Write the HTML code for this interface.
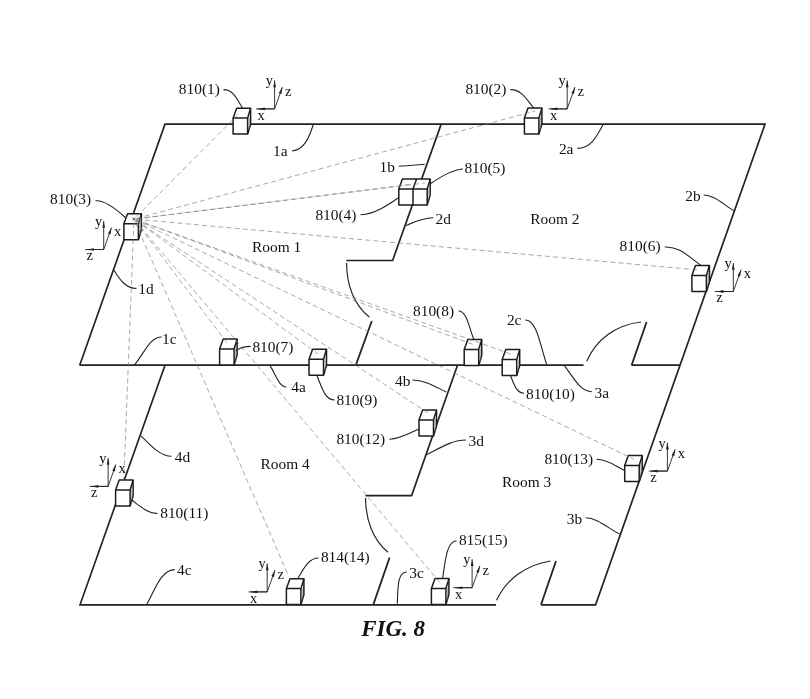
<!DOCTYPE html>
<html><head><meta charset="utf-8"><title>FIG. 8</title>
<style>
html,body{margin:0;padding:0;background:#fff;}
svg{display:block;will-change:transform;transform:translateZ(0)}
text{font-family:"Liberation Serif","DejaVu Serif",serif;fill:#111;}
</style></head><body>
<svg width="810" height="699" viewBox="0 0 810 699">
<rect width="810" height="699" fill="#fff"/>
<path d="M79.7 365.2 L165.0 124.1 L765.0 124.1 L595.6 604.8 L541.0 604.8" stroke="#222" stroke-width="1.68" fill="none" stroke-linejoin="miter"/>
<path d="M79.7 365.2 L583.5 365.2" stroke="#222" stroke-width="1.68" fill="none" stroke-linejoin="miter"/>
<path d="M631.6 365.2 L680.0 365.2" stroke="#222" stroke-width="1.68" fill="none" stroke-linejoin="miter"/>
<path d="M165.0 365.2 L80.0 604.8 L496.0 604.8" stroke="#222" stroke-width="1.68" fill="none" stroke-linejoin="miter"/>
<path d="M441.2 124.1 L392.6 260.5 L346.4 260.5" stroke="#222" stroke-width="1.68" fill="none" stroke-linejoin="miter"/>
<path d="M457.5 365.2 L411.6 495.6 L365.4 495.6" stroke="#222" stroke-width="1.68" fill="none" stroke-linejoin="miter"/>
<path d="M371.8 321.0 L355.8 365.2" stroke="#222" stroke-width="1.8" fill="none" stroke-linejoin="miter"/>
<path d="M646.6 322.0 L631.6 365.2" stroke="#222" stroke-width="1.8" fill="none" stroke-linejoin="miter"/>
<path d="M389.6 557.5 L373.3 604.8" stroke="#222" stroke-width="1.8" fill="none" stroke-linejoin="miter"/>
<path d="M556.0 561.0 L541.0 604.8" stroke="#222" stroke-width="1.8" fill="none" stroke-linejoin="miter"/>
<path d="M346.6 263 C346.6 285 354 305 369.3 317" stroke="#222" stroke-width="1.15" fill="none"/>
<path d="M365.6 498 C365.6 520 373 540 388 552.3" stroke="#222" stroke-width="1.15" fill="none"/>
<path d="M586.7 361.3 C596 340 615 325 641 322" stroke="#222" stroke-width="1.15" fill="none"/>
<path d="M496.5 600.3 C506 580 525 565 550.5 561" stroke="#222" stroke-width="1.15" fill="none"/>
<path d="M233.1 118.1 L236.7 108.19999999999999 L250.6 108.19999999999999 L250.6 124.19999999999999 L247.6 134.1 L233.1 134.1 Z" stroke="#1c1c1c" stroke-width="1.5" fill="#fff" stroke-linejoin="round"/>
<path d="M233.1 118.1 L247.6 118.1 L247.6 134.1 M247.6 118.1 L250.6 108.19999999999999" stroke="#1c1c1c" stroke-width="1.5" fill="none"/>
<path d="M249.2 131.1 L249.2 117.1" stroke="#666" stroke-width="0.5" fill="none"/>
<path d="M524.4 118.0 L528.0 108.1 L541.9 108.1 L541.9 124.1 L538.9 134.0 L524.4 134.0 Z" stroke="#1c1c1c" stroke-width="1.5" fill="#fff" stroke-linejoin="round"/>
<path d="M524.4 118.0 L538.9 118.0 L538.9 134.0 M538.9 118.0 L541.9 108.1" stroke="#1c1c1c" stroke-width="1.5" fill="none"/>
<path d="M540.5 131.0 L540.5 117.0" stroke="#666" stroke-width="0.5" fill="none"/>
<path d="M123.9 223.7 L127.5 213.79999999999998 L141.4 213.79999999999998 L141.4 229.79999999999998 L138.4 239.7 L123.9 239.7 Z" stroke="#1c1c1c" stroke-width="1.5" fill="#fff" stroke-linejoin="round"/>
<path d="M123.9 223.7 L138.4 223.7 L138.4 239.7 M138.4 223.7 L141.4 213.79999999999998" stroke="#1c1c1c" stroke-width="1.5" fill="none"/>
<path d="M140.0 236.7 L140.0 222.7" stroke="#666" stroke-width="0.5" fill="none"/>
<path d="M691.9 275.5 L695.5 265.6 L709.4 265.6 L709.4 281.6 L706.4 291.5 L691.9 291.5 Z" stroke="#1c1c1c" stroke-width="1.5" fill="#fff" stroke-linejoin="round"/>
<path d="M691.9 275.5 L706.4 275.5 L706.4 291.5 M706.4 275.5 L709.4 265.6" stroke="#1c1c1c" stroke-width="1.5" fill="none"/>
<path d="M708.0 288.5 L708.0 274.5" stroke="#666" stroke-width="0.5" fill="none"/>
<path d="M219.6 349.0 L223.2 339.1 L237.1 339.1 L237.1 355.1 L234.1 365.0 L219.6 365.0 Z" stroke="#1c1c1c" stroke-width="1.5" fill="#fff" stroke-linejoin="round"/>
<path d="M219.6 349.0 L234.1 349.0 L234.1 365.0 M234.1 349.0 L237.1 339.1" stroke="#1c1c1c" stroke-width="1.5" fill="none"/>
<path d="M235.7 362.0 L235.7 348.0" stroke="#666" stroke-width="0.5" fill="none"/>
<path d="M464.2 349.5 L467.8 339.6 L481.7 339.6 L481.7 355.6 L478.7 365.5 L464.2 365.5 Z" stroke="#1c1c1c" stroke-width="1.5" fill="#fff" stroke-linejoin="round"/>
<path d="M464.2 349.5 L478.7 349.5 L478.7 365.5 M478.7 349.5 L481.7 339.6" stroke="#1c1c1c" stroke-width="1.5" fill="none"/>
<path d="M480.3 362.5 L480.3 348.5" stroke="#666" stroke-width="0.5" fill="none"/>
<path d="M309.0 359.2 L312.6 349.3 L326.5 349.3 L326.5 365.3 L323.5 375.2 L309.0 375.2 Z" stroke="#1c1c1c" stroke-width="1.5" fill="#fff" stroke-linejoin="round"/>
<path d="M309.0 359.2 L323.5 359.2 L323.5 375.2 M323.5 359.2 L326.5 349.3" stroke="#1c1c1c" stroke-width="1.5" fill="none"/>
<path d="M325.1 372.2 L325.1 358.2" stroke="#666" stroke-width="0.5" fill="none"/>
<path d="M502.2 359.5 L505.8 349.6 L519.7 349.6 L519.7 365.6 L516.7 375.5 L502.2 375.5 Z" stroke="#1c1c1c" stroke-width="1.5" fill="#fff" stroke-linejoin="round"/>
<path d="M502.2 359.5 L516.7 359.5 L516.7 375.5 M516.7 359.5 L519.7 349.6" stroke="#1c1c1c" stroke-width="1.5" fill="none"/>
<path d="M518.3000000000001 372.5 L518.3000000000001 358.5" stroke="#666" stroke-width="0.5" fill="none"/>
<path d="M115.6 490.0 L119.19999999999999 480.1 L133.1 480.1 L133.1 496.1 L130.1 506.0 L115.6 506.0 Z" stroke="#1c1c1c" stroke-width="1.5" fill="#fff" stroke-linejoin="round"/>
<path d="M115.6 490.0 L130.1 490.0 L130.1 506.0 M130.1 490.0 L133.1 480.1" stroke="#1c1c1c" stroke-width="1.5" fill="none"/>
<path d="M131.7 503.0 L131.7 489.0" stroke="#666" stroke-width="0.5" fill="none"/>
<path d="M419.0 420.0 L422.6 410.1 L436.5 410.1 L436.5 426.1 L433.5 436.0 L419.0 436.0 Z" stroke="#1c1c1c" stroke-width="1.5" fill="#fff" stroke-linejoin="round"/>
<path d="M419.0 420.0 L433.5 420.0 L433.5 436.0 M433.5 420.0 L436.5 410.1" stroke="#1c1c1c" stroke-width="1.5" fill="none"/>
<path d="M435.1 433.0 L435.1 419.0" stroke="#666" stroke-width="0.5" fill="none"/>
<path d="M624.7 465.5 L628.3000000000001 455.6 L642.2 455.6 L642.2 471.6 L639.2 481.5 L624.7 481.5 Z" stroke="#1c1c1c" stroke-width="1.5" fill="#fff" stroke-linejoin="round"/>
<path d="M624.7 465.5 L639.2 465.5 L639.2 481.5 M639.2 465.5 L642.2 455.6" stroke="#1c1c1c" stroke-width="1.5" fill="none"/>
<path d="M640.8000000000001 478.5 L640.8000000000001 464.5" stroke="#666" stroke-width="0.5" fill="none"/>
<path d="M286.4 588.6 L290.0 578.7 L303.9 578.7 L303.9 594.7 L300.9 604.6 L286.4 604.6 Z" stroke="#1c1c1c" stroke-width="1.5" fill="#fff" stroke-linejoin="round"/>
<path d="M286.4 588.6 L300.9 588.6 L300.9 604.6 M300.9 588.6 L303.9 578.7" stroke="#1c1c1c" stroke-width="1.5" fill="none"/>
<path d="M302.5 601.6 L302.5 587.6" stroke="#666" stroke-width="0.5" fill="none"/>
<path d="M431.4 588.5 L435.0 578.6 L448.9 578.6 L448.9 594.6 L445.9 604.5 L431.4 604.5 Z" stroke="#1c1c1c" stroke-width="1.5" fill="#fff" stroke-linejoin="round"/>
<path d="M431.4 588.5 L445.9 588.5 L445.9 604.5 M445.9 588.5 L448.9 578.6" stroke="#1c1c1c" stroke-width="1.5" fill="none"/>
<path d="M447.5 601.5 L447.5 587.5" stroke="#666" stroke-width="0.5" fill="none"/>
<path d="M398.8 189.0 L402.40000000000003 179.1 L430.2 179.1 L430.2 195.1 L427.2 205.0 L398.8 205.0 Z" stroke="#1c1c1c" stroke-width="1.5" fill="#fff" stroke-linejoin="round"/>
<path d="M398.8 189.0 L427.2 189.0 L427.2 205.0 M427.2 189.0 L430.2 179.1" stroke="#1c1c1c" stroke-width="1.5" fill="none"/>
<path d="M413.0 205.0 L413.0 189.0 L416.6 179.1" stroke="#1c1c1c" stroke-width="1.5" fill="none"/>
<path d="M428.8 202.0 L428.8 188.0" stroke="#666" stroke-width="0.5" fill="none"/>
<line x1="134.0" y1="219.1" x2="238.5" y2="114" stroke="#7a7a7a" stroke-width="0.65" stroke-dasharray="5 3.2" stroke-dashoffset="4.6"/>
<line x1="134.0" y1="219.1" x2="535" y2="111" stroke="#7a7a7a" stroke-width="0.65" stroke-dasharray="5 3.2" stroke-dashoffset="5.5"/>
<line x1="134.0" y1="219.1" x2="410.7" y2="184.4" stroke="#7a7a7a" stroke-width="0.65" stroke-dasharray="5 3.2" stroke-dashoffset="6.4"/>
<line x1="134.0" y1="219.1" x2="424.8" y2="183" stroke="#7a7a7a" stroke-width="0.65" stroke-dasharray="5 3.2" stroke-dashoffset="4.6"/>
<line x1="134.0" y1="219.1" x2="698.8" y2="270" stroke="#7a7a7a" stroke-width="0.65" stroke-dasharray="5 3.2" stroke-dashoffset="5.5"/>
<line x1="134.0" y1="219.1" x2="227" y2="343" stroke="#7a7a7a" stroke-width="0.65" stroke-dasharray="5 3.2" stroke-dashoffset="6.4"/>
<line x1="134.0" y1="219.1" x2="473" y2="344.4" stroke="#7a7a7a" stroke-width="0.65" stroke-dasharray="5 3.2" stroke-dashoffset="4.6"/>
<line x1="134.0" y1="219.1" x2="318" y2="354" stroke="#7a7a7a" stroke-width="0.65" stroke-dasharray="5 3.2" stroke-dashoffset="5.5"/>
<line x1="134.0" y1="219.1" x2="512" y2="354.5" stroke="#7a7a7a" stroke-width="0.65" stroke-dasharray="5 3.2" stroke-dashoffset="6.4"/>
<line x1="134.0" y1="219.1" x2="123.8" y2="480" stroke="#7a7a7a" stroke-width="0.65" stroke-dasharray="5 3.2" stroke-dashoffset="4.6"/>
<line x1="134.0" y1="219.1" x2="428" y2="413" stroke="#7a7a7a" stroke-width="0.65" stroke-dasharray="5 3.2" stroke-dashoffset="5.5"/>
<line x1="134.0" y1="219.1" x2="634" y2="459.3" stroke="#7a7a7a" stroke-width="0.65" stroke-dasharray="5 3.2" stroke-dashoffset="6.4"/>
<line x1="134.0" y1="219.1" x2="287.7" y2="574" stroke="#7a7a7a" stroke-width="0.65" stroke-dasharray="5 3.2" stroke-dashoffset="4.6"/>
<line x1="134.0" y1="219.1" x2="440" y2="582.7" stroke="#7a7a7a" stroke-width="0.65" stroke-dasharray="5 3.2" stroke-dashoffset="5.5"/>
<path d="M132.4 217.7 L135.6 220.5 M132.4 220.5 L135.6 217.7 M134.0 217.29999999999998 L134.0 220.9" stroke="#444" stroke-width="0.6" fill="none"/>
<line x1="274.6" y1="108.9" x2="274.6" y2="80.4" stroke="#222" stroke-width="0.9"/>
<path d="M274.6 80.4 L276.0 87.2 L273.2 87.2 Z" fill="#222"/>
<line x1="274.6" y1="108.9" x2="282.40000000000003" y2="87.10000000000001" stroke="#222" stroke-width="0.9"/>
<path d="M282.4 87.1 L281.4 94.0 L278.8 93.0 Z" fill="#222"/>
<line x1="274.6" y1="108.9" x2="258.0" y2="108.9" stroke="#222" stroke-width="0.9"/>
<path d="M258.0 108.9 L264.8 107.6 L264.8 110.2 Z" fill="#222"/>
<line x1="274.6" y1="108.9" x2="256.0" y2="108.9" stroke="#222" stroke-width="0.9"/>
<text x="265.8" y="85.4" font-size="14.5" >y</text>
<text x="285.0" y="95.7" font-size="14.5" >z</text>
<text x="257.5" y="119.80000000000001" font-size="14.5" >x</text>
<line x1="567.2" y1="108.9" x2="567.2" y2="80.4" stroke="#222" stroke-width="0.9"/>
<path d="M567.2 80.4 L568.6 87.2 L565.9 87.2 Z" fill="#222"/>
<line x1="567.2" y1="108.9" x2="575.0" y2="87.10000000000001" stroke="#222" stroke-width="0.9"/>
<path d="M575.0 87.1 L574.0 94.0 L571.4 93.0 Z" fill="#222"/>
<line x1="567.2" y1="108.9" x2="550.6" y2="108.9" stroke="#222" stroke-width="0.9"/>
<path d="M550.6 108.9 L557.4 107.6 L557.4 110.2 Z" fill="#222"/>
<line x1="567.2" y1="108.9" x2="548.6" y2="108.9" stroke="#222" stroke-width="0.9"/>
<text x="558.4000000000001" y="85.4" font-size="14.5" >y</text>
<text x="577.6" y="95.7" font-size="14.5" >z</text>
<text x="550.1" y="119.80000000000001" font-size="14.5" >x</text>
<line x1="103.7" y1="249.5" x2="103.7" y2="221.0" stroke="#222" stroke-width="0.9"/>
<path d="M103.7 221.0 L105.0 227.8 L102.4 227.8 Z" fill="#222"/>
<line x1="103.7" y1="249.5" x2="111.5" y2="227.7" stroke="#222" stroke-width="0.9"/>
<path d="M111.5 227.7 L110.5 234.6 L107.9 233.6 Z" fill="#222"/>
<line x1="103.7" y1="249.5" x2="87.1" y2="249.5" stroke="#222" stroke-width="0.9"/>
<path d="M87.1 249.5 L93.9 248.2 L93.9 250.8 Z" fill="#222"/>
<line x1="103.7" y1="249.5" x2="85.1" y2="249.5" stroke="#222" stroke-width="0.9"/>
<text x="94.9" y="226.0" font-size="14.5" >y</text>
<text x="114.10000000000001" y="236.3" font-size="14.5" >x</text>
<text x="86.6" y="260.4" font-size="14.5" >z</text>
<line x1="733.3" y1="291.5" x2="733.3" y2="263.0" stroke="#222" stroke-width="0.9"/>
<path d="M733.3 263.0 L734.6 269.8 L731.9 269.8 Z" fill="#222"/>
<line x1="733.3" y1="291.5" x2="741.0999999999999" y2="269.7" stroke="#222" stroke-width="0.9"/>
<path d="M741.1 269.7 L740.1 276.6 L737.5 275.6 Z" fill="#222"/>
<line x1="733.3" y1="291.5" x2="716.6999999999999" y2="291.5" stroke="#222" stroke-width="0.9"/>
<path d="M716.7 291.5 L723.5 290.1 L723.5 292.9 Z" fill="#222"/>
<line x1="733.3" y1="291.5" x2="714.6999999999999" y2="291.5" stroke="#222" stroke-width="0.9"/>
<text x="724.5" y="268.0" font-size="14.5" >y</text>
<text x="743.6999999999999" y="278.3" font-size="14.5" >x</text>
<text x="716.1999999999999" y="302.4" font-size="14.5" >z</text>
<line x1="667.4" y1="471.1" x2="667.4" y2="442.6" stroke="#222" stroke-width="0.9"/>
<path d="M667.4 442.6 L668.8 449.4 L666.0 449.4 Z" fill="#222"/>
<line x1="667.4" y1="471.1" x2="675.1999999999999" y2="449.3" stroke="#222" stroke-width="0.9"/>
<path d="M675.2 449.3 L674.2 456.2 L671.6 455.2 Z" fill="#222"/>
<line x1="667.4" y1="471.1" x2="650.8" y2="471.1" stroke="#222" stroke-width="0.9"/>
<path d="M650.8 471.1 L657.6 469.8 L657.6 472.5 Z" fill="#222"/>
<line x1="667.4" y1="471.1" x2="648.8" y2="471.1" stroke="#222" stroke-width="0.9"/>
<text x="658.6" y="447.6" font-size="14.5" >y</text>
<text x="677.8" y="457.90000000000003" font-size="14.5" >x</text>
<text x="650.3" y="482.0" font-size="14.5" >z</text>
<line x1="108.1" y1="486.4" x2="108.1" y2="457.9" stroke="#222" stroke-width="0.9"/>
<path d="M108.1 457.9 L109.4 464.7 L106.8 464.7 Z" fill="#222"/>
<line x1="108.1" y1="486.4" x2="115.89999999999999" y2="464.59999999999997" stroke="#222" stroke-width="0.9"/>
<path d="M115.9 464.6 L114.9 471.5 L112.3 470.5 Z" fill="#222"/>
<line x1="108.1" y1="486.4" x2="91.5" y2="486.4" stroke="#222" stroke-width="0.9"/>
<path d="M91.5 486.4 L98.3 485.0 L98.3 487.8 Z" fill="#222"/>
<line x1="108.1" y1="486.4" x2="89.5" y2="486.4" stroke="#222" stroke-width="0.9"/>
<text x="99.3" y="462.9" font-size="14.5" >y</text>
<text x="118.5" y="473.2" font-size="14.5" >x</text>
<text x="91.0" y="497.29999999999995" font-size="14.5" >z</text>
<line x1="267.2" y1="591.9" x2="267.2" y2="563.4" stroke="#222" stroke-width="0.9"/>
<path d="M267.2 563.4 L268.6 570.2 L265.8 570.2 Z" fill="#222"/>
<line x1="267.2" y1="591.9" x2="275.0" y2="570.1" stroke="#222" stroke-width="0.9"/>
<path d="M275.0 570.1 L274.0 577.0 L271.4 576.0 Z" fill="#222"/>
<line x1="267.2" y1="591.9" x2="250.6" y2="591.9" stroke="#222" stroke-width="0.9"/>
<path d="M250.6 591.9 L257.4 590.5 L257.4 593.2 Z" fill="#222"/>
<line x1="267.2" y1="591.9" x2="248.6" y2="591.9" stroke="#222" stroke-width="0.9"/>
<text x="258.4" y="568.4" font-size="14.5" >y</text>
<text x="277.59999999999997" y="578.6999999999999" font-size="14.5" >z</text>
<text x="250.1" y="602.8" font-size="14.5" >x</text>
<line x1="472.1" y1="587.7" x2="472.1" y2="559.2" stroke="#222" stroke-width="0.9"/>
<path d="M472.1 559.2 L473.5 566.0 L470.8 566.0 Z" fill="#222"/>
<line x1="472.1" y1="587.7" x2="479.90000000000003" y2="565.9000000000001" stroke="#222" stroke-width="0.9"/>
<path d="M479.9 565.9 L478.9 572.8 L476.3 571.8 Z" fill="#222"/>
<line x1="472.1" y1="587.7" x2="455.5" y2="587.7" stroke="#222" stroke-width="0.9"/>
<path d="M455.5 587.7 L462.3 586.4 L462.3 589.1 Z" fill="#222"/>
<line x1="472.1" y1="587.7" x2="453.5" y2="587.7" stroke="#222" stroke-width="0.9"/>
<text x="463.3" y="564.2" font-size="14.5" >y</text>
<text x="482.5" y="574.5" font-size="14.5" >z</text>
<text x="455.0" y="598.6" font-size="14.5" >x</text>
<text x="178.8" y="93.8" font-size="15.4" >810(1)</text>
<text x="465.4" y="93.8" font-size="15.4" >810(2)</text>
<text x="50.1" y="204.3" font-size="15.4" >810(3)</text>
<text x="315.4" y="219.8" font-size="15.4" >810(4)</text>
<text x="464.4" y="173.0" font-size="15.4" >810(5)</text>
<text x="619.6" y="251.2" font-size="15.4" >810(6)</text>
<text x="252.4" y="351.5" font-size="15.4" >810(7)</text>
<text x="413.0" y="316.0" font-size="15.4" >810(8)</text>
<text x="336.4" y="404.5" font-size="15.4" >810(9)</text>
<text x="526.1" y="398.6" font-size="15.4" >810(10)</text>
<text x="160.2" y="518.1" font-size="15.4" >810(11)</text>
<text x="336.4" y="443.5" font-size="15.4" >810(12)</text>
<text x="544.4" y="464.2" font-size="15.4" >810(13)</text>
<text x="320.9" y="562.2" font-size="15.4" >814(14)</text>
<text x="458.9" y="544.9" font-size="15.4" >815(15)</text>
<text x="252.1" y="251.9" font-size="15.4" >Room 1</text>
<text x="530.3" y="224.3" font-size="15.4" >Room 2</text>
<text x="502.1" y="486.9" font-size="15.4" >Room 3</text>
<text x="260.6" y="468.9" font-size="15.4" >Room 4</text>
<text x="273.0" y="156.3" font-size="15.4" >1a</text>
<text x="379.5" y="172.1" font-size="15.4" >1b</text>
<text x="162.1" y="343.8" font-size="15.4" >1c</text>
<text x="138.2" y="293.5" font-size="15.4" >1d</text>
<text x="558.9" y="154.3" font-size="15.4" >2a</text>
<text x="685.2" y="201.2" font-size="15.4" >2b</text>
<text x="506.9" y="325.1" font-size="15.4" >2c</text>
<text x="435.5" y="223.5" font-size="15.4" >2d</text>
<text x="594.5" y="397.9" font-size="15.4" >3a</text>
<text x="566.7" y="524.0" font-size="15.4" >3b</text>
<text x="409.3" y="577.5" font-size="15.4" >3c</text>
<text x="468.6" y="445.9" font-size="15.4" >3d</text>
<text x="291.3" y="392.4" font-size="15.4" >4a</text>
<text x="395.0" y="385.5" font-size="15.4" >4b</text>
<text x="177.1" y="574.5" font-size="15.4" >4c</text>
<text x="174.7" y="461.7" font-size="15.4" >4d</text>
<text x="361.2" y="636" font-size="23" font-weight="bold" font-style="italic">FIG. 8</text>
<path d="M223.5 89.6 C233 89.4 237 99 242.5 108" stroke="#222" stroke-width="1.1" fill="none"/>
<path d="M510.4 89.6 C521 89 527 100 533.8 108" stroke="#222" stroke-width="1.1" fill="none"/>
<path d="M95.5 200.8 C104 200 115 208 125.3 217.5" stroke="#222" stroke-width="1.1" fill="none"/>
<path d="M360.5 214.8 C375 214 388 205 398.8 197.5" stroke="#222" stroke-width="1.1" fill="none"/>
<path d="M430 184 C442 176 452 170 463 169" stroke="#222" stroke-width="1.1" fill="none"/>
<path d="M664.7 247 C680 246 690 258 701.2 265.6" stroke="#222" stroke-width="1.1" fill="none"/>
<path d="M235.8 350.6 C240 348 245 346.4 250.6 346.4" stroke="#222" stroke-width="1.1" fill="none"/>
<path d="M458.5 311 C467 311 469 328 474 339.9" stroke="#222" stroke-width="1.1" fill="none"/>
<path d="M316.8 375.3 C322 388 325 400 334.6 400" stroke="#222" stroke-width="1.1" fill="none"/>
<path d="M510.4 375.2 C514 385 517 393.2 524 393.2" stroke="#222" stroke-width="1.1" fill="none"/>
<path d="M131.6 500 C140 506 148 513.6 157.5 513.6" stroke="#222" stroke-width="1.1" fill="none"/>
<path d="M389.4 439.3 C400 439 410 433 419 429" stroke="#222" stroke-width="1.1" fill="none"/>
<path d="M596.5 459.3 C607 459 615 466 624.7 470.4" stroke="#222" stroke-width="1.1" fill="none"/>
<path d="M318.5 558 C308 558 303 570 297.5 579" stroke="#222" stroke-width="1.1" fill="none"/>
<path d="M456.5 540.7 C446 541 445 565 442.5 579" stroke="#222" stroke-width="1.1" fill="none"/>
<path d="M313.5 124 C309 138 304 150 292 151" stroke="#222" stroke-width="1.1" fill="none"/>
<path d="M398.8 166.2 C408 166 416 165 424.7 164.2" stroke="#222" stroke-width="1.1" fill="none"/>
<path d="M134.8 364.6 C145 352 150 337 161.7 337" stroke="#222" stroke-width="1.1" fill="none"/>
<path d="M113.8 270 C120 280 126 288.5 136.5 288.5" stroke="#222" stroke-width="1.1" fill="none"/>
<path d="M603 124.7 C596 138 590 148.4 577.5 148.4" stroke="#222" stroke-width="1.1" fill="none"/>
<path d="M703.7 195 C714 195 724 205 733.8 210.6" stroke="#222" stroke-width="1.1" fill="none"/>
<path d="M525.2 320 C537 320 540 345 546.7 364.6" stroke="#222" stroke-width="1.1" fill="none"/>
<path d="M406.2 225.4 C416 221 424 217.8 433.3 217.8" stroke="#222" stroke-width="1.1" fill="none"/>
<path d="M564.2 365.3 C574 378 580 391.7 591.9 391.7" stroke="#222" stroke-width="1.1" fill="none"/>
<path d="M585.7 517.8 C597 518 608 528 619.5 534" stroke="#222" stroke-width="1.1" fill="none"/>
<path d="M406.7 572 C397 572 398 590 397.3 603.7" stroke="#222" stroke-width="1.1" fill="none"/>
<path d="M426.4 454.8 C440 448 452 440 466 440" stroke="#222" stroke-width="1.1" fill="none"/>
<path d="M269.9 365.4 C276 375 279 387 286.4 387" stroke="#222" stroke-width="1.1" fill="none"/>
<path d="M412.5 380 C425 380 436 387 446.2 391.9" stroke="#222" stroke-width="1.1" fill="none"/>
<path d="M146.9 603.9 C155 590 161 569.6 174.8 569.6" stroke="#222" stroke-width="1.1" fill="none"/>
<path d="M141 435.8 C150 445 160 456.3 171.6 456.3" stroke="#222" stroke-width="1.1" fill="none"/>
</svg>
</body></html>
